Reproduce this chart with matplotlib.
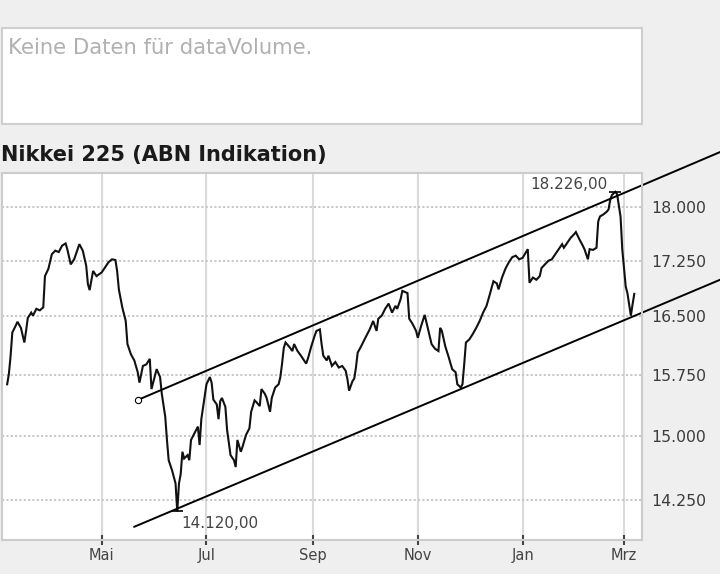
import matplotlib
matplotlib.use("Agg")
import matplotlib.pyplot as plt
import matplotlib.dates as mdates
from matplotlib.ticker import FixedLocator, NullLocator
import pandas as pd

# Nikkei 225 (ABN Indikation)
dates = [
    "2006-03-07", "2006-03-08", "2006-03-09", "2006-03-10", "2006-03-12", "2006-03-13", "2006-03-15",
    "2006-03-17", "2006-03-18", "2006-03-19", "2006-03-21", "2006-03-22", "2006-03-24", "2006-03-26",
    "2006-03-28", "2006-03-29", "2006-03-31", "2006-04-02", "2006-04-04", "2006-04-06", "2006-04-08",
    "2006-04-10", "2006-04-11", "2006-04-13", "2006-04-15", "2006-04-17", "2006-04-18", "2006-04-20",
    "2006-04-22", "2006-04-23", "2006-04-24", "2006-04-26", "2006-04-28", "2006-05-01", "2006-05-03",
    "2006-05-05", "2006-05-07", "2006-05-09", "2006-05-10", "2006-05-11", "2006-05-13", "2006-05-15",
    "2006-05-16", "2006-05-18", "2006-05-20", "2006-05-22", "2006-05-23", "2006-05-25", "2006-05-27",
    "2006-05-29", "2006-05-30", "2006-06-01", "2006-06-02", "2006-06-04", "2006-06-05", "2006-06-07",
    "2006-06-08", "2006-06-09", "2006-06-11", "2006-06-13", "2006-06-14", "2006-06-15", "2006-06-16",
    "2006-06-17", "2006-06-18", "2006-06-20", "2006-06-21", "2006-06-22", "2006-06-24", "2006-06-26",
    "2006-06-27", "2006-06-28", "2006-06-30", "2006-07-01", "2006-07-03", "2006-07-04", "2006-07-05",
    "2006-07-07", "2006-07-08", "2006-07-09", "2006-07-10", "2006-07-12", "2006-07-13", "2006-07-15",
    "2006-07-17", "2006-07-18", "2006-07-19", "2006-07-21", "2006-07-22", "2006-07-24", "2006-07-26",
    "2006-07-27", "2006-07-29", "2006-07-30", "2006-08-01", "2006-08-02", "2006-08-04", "2006-08-05",
    "2006-08-07", "2006-08-08", "2006-08-10", "2006-08-12", "2006-08-13", "2006-08-14", "2006-08-15",
    "2006-08-16", "2006-08-18", "2006-08-20", "2006-08-21", "2006-08-23", "2006-08-25", "2006-08-28",
    "2006-08-29", "2006-08-31", "2006-09-02", "2006-09-03", "2006-09-05", "2006-09-06", "2006-09-07",
    "2006-09-09", "2006-09-10", "2006-09-12", "2006-09-14", "2006-09-16", "2006-09-18", "2006-09-20",
    "2006-09-21", "2006-09-22", "2006-09-24", "2006-09-25", "2006-09-26", "2006-09-27", "2006-09-29",
    "2006-10-01", "2006-10-04", "2006-10-06", "2006-10-08", "2006-10-09", "2006-10-11", "2006-10-13",
    "2006-10-15", "2006-10-17", "2006-10-19", "2006-10-20", "2006-10-22", "2006-10-23", "2006-10-24",
    "2006-10-26", "2006-10-27", "2006-10-29", "2006-10-31", "2006-11-01", "2006-11-03", "2006-11-05",
    "2006-11-07", "2006-11-09", "2006-11-11", "2006-11-13", "2006-11-14", "2006-11-15", "2006-11-17",
    "2006-11-19", "2006-11-21", "2006-11-23", "2006-11-24", "2006-11-26", "2006-11-27", "2006-11-28",
    "2006-11-29", "2006-12-01", "2006-12-03", "2006-12-05", "2006-12-07", "2006-12-09", "2006-12-11",
    "2006-12-13", "2006-12-15", "2006-12-17", "2006-12-18", "2006-12-20", "2006-12-22", "2006-12-24",
    "2006-12-26", "2006-12-28", "2006-12-30", "2007-01-01", "2007-01-04", "2007-01-05", "2007-01-07",
    "2007-01-09", "2007-01-11", "2007-01-12", "2007-01-14", "2007-01-16", "2007-01-18", "2007-01-20",
    "2007-01-22", "2007-01-24", "2007-01-25", "2007-01-27", "2007-01-29", "2007-01-31", "2007-02-01",
    "2007-02-03", "2007-02-05", "2007-02-06", "2007-02-08", "2007-02-09", "2007-02-11", "2007-02-13",
    "2007-02-14", "2007-02-15", "2007-02-17", "2007-02-19", "2007-02-20", "2007-02-21", "2007-02-22",
    "2007-02-24", "2007-02-25", "2007-02-27", "2007-02-28", "2007-03-02", "2007-03-03", "2007-03-05",
    "2007-03-06", "2007-03-07",
]
close = [
    15630, 15760, 15990, 16290, 16380, 16430, 16350, 16160, 16310, 16480, 16550, 16510, 16600, 16580,
    16620, 17040, 17140, 17340, 17390, 17370, 17460, 17490, 17410, 17200, 17270, 17410, 17480, 17390,
    17180, 16930, 16850, 17110, 17040, 17090, 17160, 17230, 17270, 17260, 17110, 16860, 16620, 16440,
    16140, 16010, 15930, 15780, 15650, 15860, 15880, 15950, 15570, 15740, 15820, 15720, 15510, 15230,
    14950, 14710, 14590, 14440, 14120, 14440, 14550, 14810, 14730, 14770, 14710, 14950, 15030, 15110,
    14890, 15200, 15490, 15630, 15720, 15650, 15440, 15380, 15200, 15420, 15460, 15350, 15070, 14770,
    14710, 14630, 14950, 14810, 14870, 15010, 15090, 15290, 15430, 15410, 15360, 15570, 15510, 15460,
    15290, 15460, 15590, 15630, 15720, 15890, 16090, 16160, 16110, 16050, 16140, 16050, 15990, 15890,
    15950, 16110, 16250, 16310, 16330, 16140, 15990, 15930, 15990, 15860, 15910, 15840, 15860, 15800,
    15700, 15550, 15670, 15700, 15840, 16030, 16110, 16200, 16330, 16440, 16310, 16470, 16510, 16600,
    16670, 16550, 16640, 16600, 16730, 16840, 16830, 16810, 16470, 16400, 16310, 16220, 16380, 16520,
    16330, 16140, 16080, 16050, 16350, 16310, 16110, 15970, 15820, 15780, 15630, 15590, 15630, 15880,
    16160, 16200, 16270, 16350, 16440, 16550, 16640, 16800, 16970, 16940, 16860, 17020, 17140, 17230,
    17300, 17320, 17270, 17290, 17410, 16950, 17020, 16990, 17040, 17150, 17200, 17250, 17270, 17340,
    17410, 17480, 17430, 17500, 17570, 17620, 17650, 17550, 17460, 17410, 17270, 17410, 17400, 17430,
    17800, 17870, 17900, 17940, 17970, 18110, 18180, 18226, 18190, 17870, 17410, 16900, 16810, 16510,
    16660, 16800,
]

# trend channel drawn by hand on the chart: (start, end)
upper_dates = ["2006-05-22", "2007-04-26"]
upper_values = [15435, 18815]
lower_dates = ["2006-05-20", "2007-04-26"]
lower_values = [13949, 16991]

x_ticks = ["2006-05-01", "2006-07-01", "2006-09-01", "2006-11-01", "2007-01-01", "2007-03-01"]
x_labels = ["Mai", "Jul", "Sep", "Nov", "Jan", "Mrz"]
y_ticks = [14250, 15000, 15750, 16500, 17250, 18000]


def de_number(v, decimals=0):
    s = f"{v:,.{decimals}f}"
    return s.replace(",", "X").replace(".", ",").replace("X", ".")


df = pd.DataFrame({"date": pd.to_datetime(dates), "close": close})

BG = "#efefef"
fig = plt.figure(figsize=(7.2, 5.74), dpi=100, facecolor=BG)

# empty volume panel
box = fig.add_axes([0.0028, 0.784, 0.889, 0.1672])
box.set_facecolor("white")
box.set_xticks([])
box.set_yticks([])
for sp in box.spines.values():
    sp.set_color("#cfcfcf")
    sp.set_linewidth(1.5)
box.text(0.009, 0.90, "Keine Daten für dataVolume.", transform=box.transAxes,
         ha="left", va="top", fontsize=15.2, color="#b0b0b0")

fig.text(0.002, 0.713, "Nikkei 225 (ABN Indikation)", ha="left", va="bottom",
         fontsize=15, fontweight="bold", color="#1a1a1a")

ax = fig.add_axes([0.0028, 0.0592, 0.8889, 0.6394])
ax.set_facecolor("white")
for sp in ax.spines.values():
    sp.set_color("#cccccc")
    sp.set_linewidth(1.5)

ax.set_yscale("log")
ax.set_ylim(13802, 18502)
ax.set_xlim(pd.Timestamp("2006-03-04"), pd.Timestamp("2007-03-11 12:00"))

ax.yaxis.set_major_locator(FixedLocator(y_ticks))
ax.yaxis.set_minor_locator(NullLocator())
ax.set_yticklabels([de_number(v) for v in y_ticks])
ax.yaxis.tick_right()
ax.tick_params(axis="y", length=0, pad=6.5, labelsize=11.3, labelcolor="#3c3c3c")

tick_pos = [mdates.date2num(pd.Timestamp(t)) for t in x_ticks]
ax.xaxis.set_major_locator(FixedLocator(tick_pos))
ax.xaxis.set_minor_locator(NullLocator())
ax.set_xticklabels(x_labels)
ax.tick_params(axis="x", direction="inout", length=7, width=1.5, color="#444444",
               pad=2.5, labelsize=10.5, labelcolor="#444444")

ax.grid(axis="x", color="#dadada", linewidth=1.5, linestyle="-")
ax.grid(axis="y", color="#c4c4c4", linewidth=1.3, linestyle=(0, (1.2, 1.2)))
ax.set_axisbelow(True)

ax.plot(df["date"], df["close"], color="#111111", linewidth=1.5, solid_joinstyle="miter")

# trend channel, runs past the plot frame
ax.plot(pd.to_datetime(upper_dates), upper_values, color="black", linewidth=1.4, clip_on=False)
ax.plot(pd.to_datetime(lower_dates), lower_values, color="black", linewidth=1.4, clip_on=False)
ax.plot(pd.to_datetime(upper_dates[:1]), upper_values[:1], marker="o", markersize=4.5,
        markerfacecolor="white", markeredgecolor="black", markeredgewidth=0.8, clip_on=False)

# high / low markers
hi = df.loc[df["close"].idxmax()]
lo = df.loc[df["close"].idxmin()]
ax.plot([hi["date"]], [hi["close"]], marker="_", markersize=9, markeredgewidth=1.2, color="black")
ax.plot([lo["date"]], [lo["close"]], marker="_", markersize=9, markeredgewidth=1.2, color="black")
ax.annotate(de_number(hi["close"], 2), (hi["date"], hi["close"]), xytext=(-8, 0),
            textcoords="offset pixels", ha="right", va="bottom", fontsize=11, color="#444444")
ax.annotate(de_number(lo["close"], 2), (lo["date"], lo["close"]), xytext=(4, -5),
            textcoords="offset pixels", ha="left", va="top", fontsize=11, color="#444444")

fig.savefig("out.png", dpi=100, facecolor=BG)
